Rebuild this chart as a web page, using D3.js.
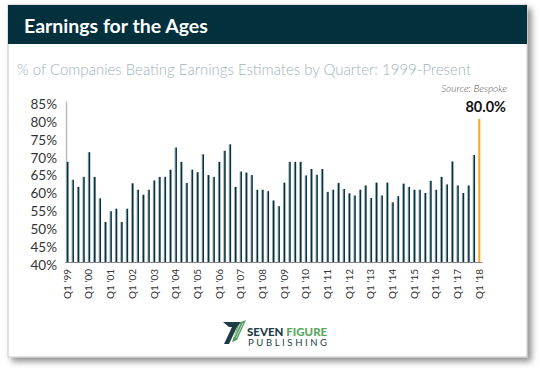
<!DOCTYPE html>
<html>
<head>
<meta charset="utf-8">
<script src="https://cdn.jsdelivr.net/npm/d3@7"></script>
<style>
  body { margin: 0; background: #fff; }
  svg { display: block; font-family: Lato, "Open Sans", sans-serif; }
</style>
</head>
<body>
<div id="chart"></div>
<script>
// Data: % of companies beating estimates, Q1 1999 .. Q1 2018
const years = d3.range(1999, 2019);
const quarterNames = ["Q1", "Q2", "Q3", "Q4"];
const beatPct = [
  68.0, 63.0, 61.0, 63.8, 70.7, 63.8, 57.8, 51.2, 54.2, 54.9,
  51.2, 54.9, 62.0, 60.2, 58.8, 60.2, 62.8, 63.8, 63.8, 65.8,
  72.0, 68.0, 62.1, 65.8, 65.1, 70.1, 64.3, 63.8, 68.0, 71.1,
  72.9, 61.0, 65.3, 65.0, 64.3, 60.2, 60.2, 59.8, 57.2, 55.6,
  62.2, 68.0, 68.0, 68.0, 64.2, 66.0, 64.4, 66.0, 59.6, 60.2,
  62.1, 60.4, 59.2, 58.6, 60.2, 61.4, 57.9, 62.2, 58.6, 62.2,
  56.7, 58.4, 61.9, 61.0, 60.2, 60.2, 59.3, 62.7, 60.2, 63.8,
  61.7, 68.1, 61.4, 59.3, 61.4, 69.9, 80.0
];
const yTicks = [40, 45, 50, 55, 60, 65, 70, 75, 80, 85];

const quarters = [];
years.forEach(yr => quarterNames.forEach(q => quarters.push(`${q} '${String(yr).slice(2)}`)));
const data = beatPct.map((v, i) => ({ q: quarters[i], v: v }));
const xLabels = years.map(yr => `Q1 '${String(yr).slice(2)}`);
const lastQ = data[data.length - 1].q;

const W = 540, H = 372;
const svg = d3.select("#chart").append("svg")
  .attr("width", W).attr("height", H);

const defs = svg.append("defs");
const shadow = defs.append("filter").attr("id", "shadow")
  .attr("x", "-5%").attr("y", "-5%").attr("width", "115%").attr("height", "115%");
shadow.append("feDropShadow")
  .attr("dx", 4).attr("dy", 4).attr("stdDeviation", 3)
  .attr("flood-color", "#000").attr("flood-opacity", 0.45);

const barGrad = defs.append("linearGradient").attr("id", "barGrad")
  .attr("x1", "0%").attr("x2", "100%");
barGrad.append("stop").attr("offset", "0%").attr("stop-color", "#9cb4bb");
barGrad.append("stop").attr("offset", "40%").attr("stop-color", "#5d7f89");
barGrad.append("stop").attr("offset", "55%").attr("stop-color", "#06303c");
barGrad.append("stop").attr("offset", "100%").attr("stop-color", "#06303c");

const orangeGrad = defs.append("linearGradient").attr("id", "orangeGrad")
  .attr("x1", "0%").attr("x2", "100%");
orangeGrad.append("stop").attr("offset", "0%").attr("stop-color", "#fbc66b");
orangeGrad.append("stop").attr("offset", "50%").attr("stop-color", "#f5a21c");
orangeGrad.append("stop").attr("offset", "100%").attr("stop-color", "#fbc66b");

// Card
svg.append("rect")
  .attr("x", 8).attr("y", 5).attr("width", 519).attr("height", 352)
  .attr("fill", "#fff").attr("stroke", "#c8c8c8").attr("stroke-width", 1)
  .attr("filter", "url(#shadow)");

svg.append("rect")
  .attr("x", 8).attr("y", 5).attr("width", 519).attr("height", 39)
  .attr("fill", "#02303d");

svg.append("text")
  .attr("x", 24).attr("y", 33)
  .attr("fill", "#fff")
  .attr("font-size", 19.5).attr("font-weight", 700)
  .text("Earnings for the Ages");

svg.append("text")
  .attr("x", 17).attr("y", 75)
  .attr("fill", "#9fb3bb")
  .attr("font-size", 15).attr("font-weight", 300)
  .text("% of Companies Beating Earnings Estimates by Quarter: 1999-Present");

svg.append("text")
  .attr("x", 507).attr("y", 92)
  .attr("text-anchor", "end")
  .attr("fill", "#555")
  .attr("font-size", 10).attr("font-style", "italic").attr("font-weight", 300)
  .text("Source: Bespoke");

// Scales
const x = d3.scaleBand()
  .domain(quarters.slice(0, data.length))
  .range([64.6, 482]);

const y = d3.scaleLinear()
  .domain([40, 85])
  .range([262, 101]);

// Y axis
const yAxis = svg.append("g")
  .attr("transform", "translate(66,0)")
  .call(d3.axisLeft(y).tickValues(yTicks).tickSize(0).tickPadding(9).tickFormat(d => d + "%"));
yAxis.select(".domain").attr("stroke", "#bdbdbd").attr("stroke-width", 1.5);
yAxis.selectAll("text")
  .attr("dy", "0.55em")
  .style("font-family", "Lato, sans-serif")
  .style("font-size", "13.5px")
  .attr("fill", "#333");

// Bars
svg.selectAll("rect.bar")
  .data(data)
  .enter()
  .append("rect")
  .attr("class", "bar")
  .attr("x", d => x(d.q) + x.bandwidth() / 2 - 1.2)
  .attr("width", 2.4)
  .attr("y", d => y(d.v))
  .attr("height", d => y(40) - y(d.v))
  .attr("fill", d => d.q === lastQ ? "url(#orangeGrad)" : "url(#barGrad)");

// X axis
const xAxis = svg.append("g")
  .attr("transform", `translate(0,${y(40)})`)
  .call(d3.axisBottom(x).tickValues(xLabels).tickSize(0));
xAxis.select(".domain").attr("stroke", "#888").attr("stroke-width", 1);
xAxis.selectAll("text")
  .attr("transform", "rotate(-90)")
  .attr("x", -7).attr("y", 0).attr("dy", "0.35em")
  .attr("text-anchor", "end")
  .style("font-family", "Lato, sans-serif")
  .style("font-size", "10px")
  .attr("fill", "#333");

// Highlight label on last bar
const last = data[data.length - 1];
svg.append("text")
  .attr("x", 506).attr("y", 112)
  .attr("text-anchor", "end")
  .attr("font-size", 14.5).attr("font-weight", 700)
  .attr("fill", "#111")
  .text(d3.format(".1f")(last.v) + "%");

// Logo
const logo = svg.append("g").attr("transform", "translate(223,320)");
logo.append("path")
  .attr("d", "M0,2 L18,2 L14,7 L6,7 Z")
  .attr("fill", "#1d3d45");
logo.append("path")
  .attr("d", "M14,7 L6,24 L1,24 L9,7 Z")
  .attr("fill", "#1d3d45");
logo.append("path")
  .attr("d", "M18,2 L23,0 L14,20 L9,22 L14,7 Z")
  .attr("fill", "#4f9e5b");
logo.append("path")
  .attr("d", "M20,3 L13,18 M17,4 L11,17")
  .attr("stroke", "#fff").attr("stroke-width", 0.6);

svg.append("text")
  .attr("x", 247).attr("y", 336)
  .attr("font-size", 11.5).attr("font-weight", 900)
  .attr("fill", "#1d3d45")
  .text("SEVEN ")
  .append("tspan")
  .attr("fill", "#5aa85f")
  .text("FIGURE");

svg.append("text")
  .attr("x", 248).attr("y", 346)
  .attr("font-size", 9.5)
  .attr("letter-spacing", 2.6)
  .attr("fill", "#1d3d45")
  .text("PUBLISHING");
</script>
</body>
</html>
